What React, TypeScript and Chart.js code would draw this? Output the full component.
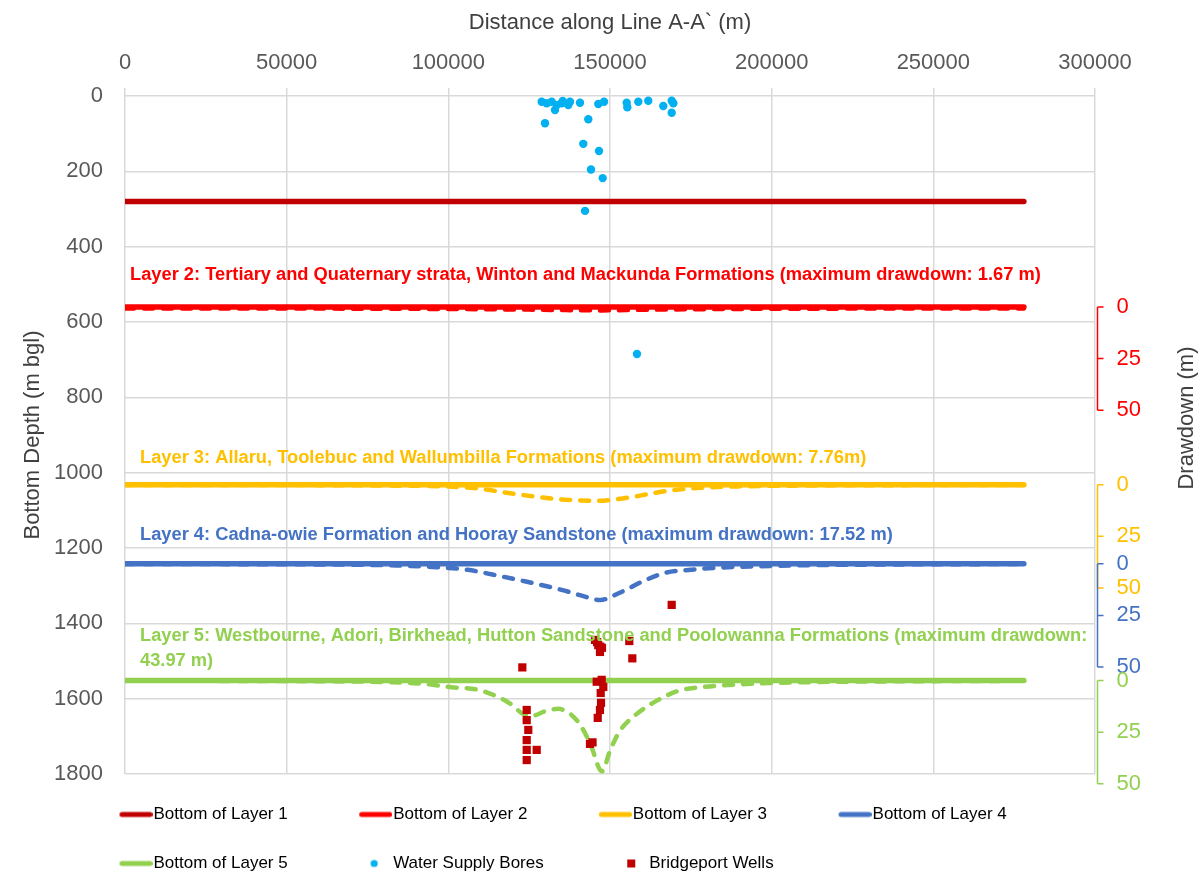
import React, { useEffect, useRef } from 'react';
import { Chart, registerables } from 'chart.js';

Chart.register(...registerables);

const FONT = '"Liberation Sans", Arial, Helvetica, sans-serif';

// ---------- data ----------
const layerNames = ['Bottom of Layer 1', 'Bottom of Layer 2', 'Bottom of Layer 3', 'Bottom of Layer 4', 'Bottom of Layer 5'];
const layerDepths = [280, 560, 1032, 1242, 1552];
const layerExtentX = [0, 278000];

const dd2X = [0, 50000, 100000, 125000, 140000, 147000, 155000, 170000, 200000, 250000, 278000];
const dd2Values = [0.8, 0.8, 1.0, 1.3, 1.6, 1.67, 1.5, 1.2, 0.9, 0.8, 0.8];

const dd3X = [0, 60000, 80000, 100000, 110000, 118000, 126000, 134000, 141000, 147000, 152000, 157000, 163000, 168000, 178000, 190000, 210000, 240000, 278000];
const dd3Values = [0.1, 0.2, 0.4, 0.9, 2.0, 3.9, 5.6, 7.0, 7.6, 7.76, 7.0, 5.9, 4.2, 2.9, 1.5, 0.8, 0.4, 0.2, 0.1];

const dd4X = [0, 60000, 84000, 95000, 106000, 114000, 124000, 135000, 141000, 147000, 153000, 160000, 167000, 175000, 183000, 196000, 210000, 240000, 278000];
const dd4Values = [0.1, 0.3, 0.8, 1.5, 2.9, 5.3, 8.6, 12.6, 15.3, 17.52, 14.0, 8.6, 4.4, 2.9, 1.9, 1.2, 0.7, 0.3, 0.1];

const dd5X = [0, 60000, 82000, 92000, 101000, 109000, 114000, 119000, 123500, 126000, 130000, 134000, 138000, 141000, 144000, 147500, 150000, 153000, 158000, 164500, 171500, 177000, 192000, 210000, 235000, 278000];
const dd5Values = [0.1, 0.3, 0.8, 1.5, 3.2, 4.4, 7.0, 11.0, 16.5, 17.0, 14.8, 13.7, 16.5, 22.0, 31.0, 43.97, 34.0, 24.5, 16.5, 9.7, 4.8, 3.4, 1.7, 0.8, 0.4, 0.1];

const wsbX = [128870, 130420, 131970, 132990, 133520, 135060, 135380, 137100, 137630, 140720, 129900, 143290, 146380, 148150, 141740, 146600, 144120, 147740, 142280, 155170, 155350, 158750, 161840, 166480, 169080, 169580, 169080, 158350];
const wsbDepth = [15.1, 19.4, 15.1, 37.2, 23.9, 19.4, 13.3, 23.9, 15.1, 17.8, 72.5, 61.9, 21.2, 15.1, 127, 146, 195, 218, 305, 17.8, 30, 15.1, 12.5, 26.5, 12.5, 19.4, 44.3, 685];

const bwX = [169080, 122880, 146380, 145360, 147520, 146900, 146000, 147000, 155970, 156900, 145890, 147430, 147930, 147120, 147220, 146900, 146200, 143810, 144600, 124240, 124240, 124730, 124240, 124240, 124240, 127330];
const bwDepth = [1351, 1517, 1458, 1444, 1465, 1476, 1450, 1462, 1447, 1493, 1555, 1550, 1569, 1585, 1611, 1630, 1651, 1720, 1716, 1630, 1657, 1683, 1710, 1736, 1763, 1736];

const drawdownTicks = [0, 25, 50];
const depthPerDrawdownMetre = 5.48;

const annotationTexts = [
  ['Layer 2: Tertiary and Quaternary strata, Winton and Mackunda Formations (maximum drawdown: 1.67 m)'],
  ['Layer 3: Allaru, Toolebuc and Wallumbilla Formations (maximum drawdown: 7.76m)'],
  ['Layer 4: Cadna-owie Formation and Hooray Sandstone (maximum drawdown: 17.52 m)'],
  ['Layer 5: Westbourne, Adori, Birkhead, Hutton Sandstone and Poolowanna Formations (maximum drawdown:', '43.97 m)'],
];
// annotation anchors in data units (x distance, depth)
const annotationX = [1550, 4640, 4640, 4640];
const annotationDepth = [475, 961, 1165, 1434];
const annotationLineStep = 66;

// ---------- styles ----------
const layerColors = ['#C00000', '#FF0000', '#FFC000', '#4472C4', '#92D050'];
const wsbColor = '#00B0F0';
const bwColor = '#C00000';
const gridColor = '#D9D9D9';
const tickColor = '#595959';
const titleColor = '#404040';

const ddLayers = [1, 2, 3, 4];
const ddXs = [dd2X, dd3X, dd4X, dd5X];
const ddVals = [dd2Values, dd3Values, dd4Values, dd5Values];

function makeMarker(kind: string, color: string) {
  const c = document.createElement('canvas');
  c.width = 80;
  c.height = 12;
  const g = c.getContext('2d')!;
  if (kind === 'line') {
    g.strokeStyle = color;
    g.lineWidth = 5;
    g.lineCap = 'round';
    g.beginPath();
    g.moveTo(49.5, 6);
    g.lineTo(77.5, 6);
    g.stroke();
  } else if (kind === 'circle') {
    g.fillStyle = color;
    g.beginPath();
    g.arc(62, 6, 3.6, 0, Math.PI * 2);
    g.fill();
  } else {
    g.fillStyle = color;
    g.fillRect(59, 2, 8, 8);
  }
  return c;
}

const drawdownAxesPlugin = {
  id: 'drawdownAxes',
  afterDraw(chart: any) {
    const { ctx, chartArea } = chart;
    ctx.save();
    ddLayers.forEach((li) => {
      const sc = chart.scales['dd' + (li + 1)];
      const color = layerColors[li];
      const x0 = chartArea.right + 2.5;
      ctx.strokeStyle = color;
      ctx.lineWidth = 1.5;
      ctx.beginPath();
      ctx.moveTo(x0, sc.getPixelForValue(drawdownTicks[0]));
      ctx.lineTo(x0, sc.getPixelForValue(drawdownTicks[drawdownTicks.length - 1]));
      drawdownTicks.forEach((t) => {
        const y = sc.getPixelForValue(t);
        ctx.moveTo(x0, y);
        ctx.lineTo(x0 + 6, y);
      });
      ctx.stroke();
      ctx.fillStyle = color;
      ctx.font = `22px ${FONT}`;
      ctx.textAlign = 'left';
      ctx.textBaseline = 'middle';
      drawdownTicks.forEach((t) => ctx.fillText(String(t), x0 + 19, sc.getPixelForValue(t)));
    });
    ctx.translate(chartArea.right + 92, chartArea.top + chartArea.height * 0.475);
    ctx.rotate(-Math.PI / 2);
    ctx.fillStyle = titleColor;
    ctx.font = `22px ${FONT}`;
    ctx.textAlign = 'center';
    ctx.textBaseline = 'middle';
    ctx.fillText('Drawdown (m)', 0, 0);
    ctx.restore();
  },
};

const annotationPlugin = {
  id: 'layerAnnotations',
  afterDatasetsDraw(chart: any) {
    const { ctx } = chart;
    const xs = chart.scales.x;
    const ys = chart.scales.y;
    ctx.save();
    ctx.font = `bold 18.3px ${FONT}`;
    ctx.textAlign = 'left';
    ctx.textBaseline = 'middle';
    annotationTexts.forEach((lines, i) => {
      ctx.fillStyle = layerColors[i + 1];
      lines.forEach((t, j) => {
        ctx.fillText(t, xs.getPixelForValue(annotationX[i]), ys.getPixelForValue(annotationDepth[i] + j * annotationLineStep));
      });
    });
    ctx.restore();
  },
};

const plainNumber = (v: any) => String(v);

export default function App() {
  const ref = useRef<HTMLCanvasElement>(null);

  useEffect(() => {
    if (!ref.current) return;
    Chart.defaults.font.family = FONT;
    Chart.defaults.color = tickColor;

    const layerSets = layerNames.map((name, i) => ({
      label: name,
      data: layerExtentX.map((x) => ({ x, y: layerDepths[i] })),
      showLine: true,
      borderColor: layerColors[i],
      backgroundColor: layerColors[i],
      borderWidth: 5.5,
      borderCapStyle: 'round',
      pointRadius: 0,
      order: 1,
      yAxisID: 'y',
    }));

    const ddSets = ddLayers.map((li, k) => ({
      label: 'Drawdown ' + (li + 1),
      data: ddXs[k].map((x, j) => ({ x, y: ddVals[k][j] })),
      showLine: true,
      borderColor: layerColors[li],
      backgroundColor: layerColors[li],
      borderWidth: 4.5,
      borderDash: [9, 10],
      borderCapStyle: 'round',
      cubicInterpolationMode: 'monotone',
      pointRadius: 0,
      order: 2,
      yAxisID: 'dd' + (li + 1),
    }));

    const wsbSet = {
      label: 'Water Supply Bores',
      data: wsbX.map((x, j) => ({ x, y: wsbDepth[j] })),
      pointStyle: 'circle',
      pointRadius: 4.2,
      backgroundColor: wsbColor,
      borderWidth: 0,
      showLine: false,
      order: 0,
      yAxisID: 'y',
    };
    const bwSet = {
      label: 'Bridgeport Wells',
      data: bwX.map((x, j) => ({ x, y: bwDepth[j] })),
      pointStyle: 'rect',
      pointRadius: 5.8,
      backgroundColor: bwColor,
      borderWidth: 0,
      showLine: false,
      order: 0,
      yAxisID: 'y',
    };

    const datasets: any[] = [...layerSets, wsbSet, bwSet, ...ddSets];

    const markers = [
      ...layerColors.map((c) => makeMarker('line', c)),
      makeMarker('circle', wsbColor),
      makeMarker('rect', bwColor),
    ];

    const ddScales: any = {};
    ddLayers.forEach((li) => {
      const D = layerDepths[li];
      ddScales['dd' + (li + 1)] = {
        type: 'linear',
        display: false,
        reverse: true,
        min: -D / depthPerDrawdownMetre,
        max: (1800 - D) / depthPerDrawdownMetre,
      };
    });

    const chart = new Chart(ref.current, {
      type: 'scatter',
      data: { datasets },
      plugins: [annotationPlugin, drawdownAxesPlugin],
      options: {
        animation: false,
        responsive: false,
        events: [],
        layout: { padding: { left: 48, right: 105, top: 0, bottom: -7 } },
        scales: {
          x: {
            type: 'linear',
            position: 'top',
            min: 0,
            max: 300000,
            ticks: { stepSize: 50000, color: tickColor, font: { size: 22 }, padding: 12, maxRotation: 0, autoSkip: false, callback: plainNumber },
            grid: { color: gridColor, lineWidth: 1.5, tickLength: 8, drawTicks: true },
            border: { display: false },
            title: { display: true, text: 'Distance along Line A-A` (m)', color: titleColor, font: { size: 22 }, padding: { top: 10, bottom: 0 } },
            afterFit: (s: any) => { s.height = 96; },
          },
          y: {
            type: 'linear',
            position: 'left',
            reverse: true,
            min: 0,
            max: 1800,
            ticks: { stepSize: 200, color: tickColor, font: { size: 22 }, padding: 22, callback: plainNumber },
            grid: { color: gridColor, lineWidth: 1.5, drawTicks: false },
            border: { display: false },
            title: { display: true, text: 'Bottom Depth (m bgl)', color: titleColor, font: { size: 22 }, padding: { top: -28, bottom: 0 } },
            afterFit: (s: any) => { s.width = 77; },
          },
          ...ddScales,
        },
        plugins: {
          tooltip: { enabled: false },
          legend: {
            display: true,
            position: 'bottom',
            align: 'start',
            labels: {
              usePointStyle: true,
              pointStyleWidth: 65,
              padding: 32,
              color: titleColor,
              font: { size: 17 },
              generateLabels: () =>
                markers.map((m, i) => ({
                  text: datasets[i].label,
                  pointStyle: m,
                  fillStyle: datasets[i].backgroundColor,
                  strokeStyle: datasets[i].backgroundColor,
                  lineWidth: 0,
                  hidden: false,
                  datasetIndex: i,
                })),
            },
          },
        },
      } as any,
    });
    return () => chart.destroy();
  }, []);

  return (
    <div style={{ position: 'absolute', left: 0, top: 0, width: 1200, height: 875 }}>
      <canvas ref={ref} width={1200} height={875} style={{ display: 'block', width: 1200, height: 875 }} />
    </div>
  );
}
